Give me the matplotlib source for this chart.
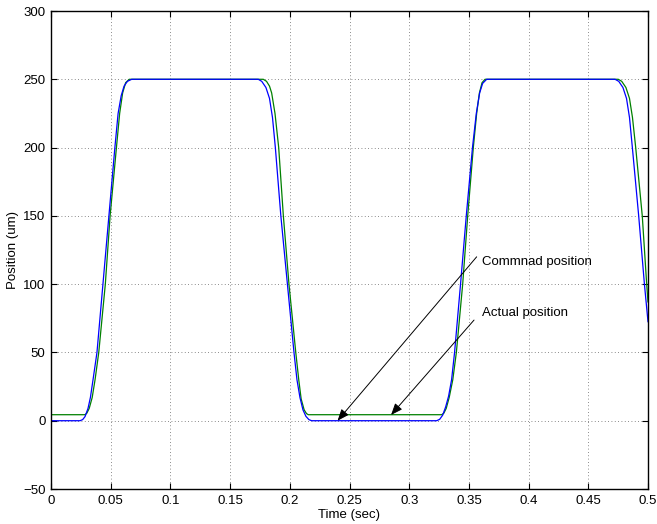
import numpy as np
import matplotlib
matplotlib.use("Agg")
import matplotlib.pyplot as plt

plt.rcParams['font.family'] = ['Liberation Sans', 'DejaVu Sans']

# command position (blue)
t_cmd = [0, 0.0243, 0.0265, 0.0285, 0.031, 0.033, 0.0352, 0.0385, 0.0435, 0.0485,
         0.0535, 0.0562, 0.0588, 0.0612, 0.0640, 0.0676,
         0.1736, 0.1765, 0.1800, 0.1830, 0.1855, 0.1879, 0.1925, 0.1980, 0.2035,
         0.2060, 0.2085, 0.2110, 0.2135, 0.2160, 0.2183,
         0.3230, 0.3255, 0.3280, 0.3305, 0.3330, 0.3355, 0.3380, 0.3430, 0.3478,
         0.3530, 0.3562, 0.3590, 0.3615, 0.3649,
         0.4724, 0.4755, 0.4790, 0.4820, 0.4845, 0.4869, 0.4922, 0.4970, 0.5]
y_cmd = [0, 0, 0.8, 3, 9, 17, 30, 50, 100, 150,
         200, 225, 238, 245, 248.5, 250,
         250, 248.5, 244, 236, 222, 200, 150, 100, 50,
         30, 17, 8, 3.2, 0.8, 0,
         0, 1, 4, 10, 18, 30, 50, 100, 150,
         200, 225, 240, 247, 250,
         250, 248.5, 244, 236, 222, 200, 150, 100, 72.5]

# actual position (green)
t_act = [0, 0.0285, 0.0300, 0.0320, 0.0345, 0.0369, 0.0400, 0.0455, 0.0495,
         0.0548, 0.0575, 0.0600, 0.0625, 0.0655,
         0.1778, 0.1805, 0.1830, 0.1848, 0.1876, 0.1907, 0.1946, 0.1993, 0.2050,
         0.2075, 0.2095, 0.2120, 0.2140, 0.2155,
         0.3272, 0.3290, 0.3310, 0.3335, 0.3365, 0.3395, 0.3448, 0.3490,
         0.3537, 0.3565, 0.3588, 0.3610, 0.3635,
         0.4751, 0.4780, 0.4815, 0.4845, 0.4870, 0.4897, 0.4952, 0.4989, 0.5]
y_act = [4.4, 4.4, 5.5, 9, 17, 30, 50, 100, 150,
         200, 225, 240, 247.5, 250,
         250, 248.5, 245, 240, 225, 200, 150, 100, 50,
         30, 16, 8, 5.2, 4.4,
         4.4, 5.5, 9, 17, 30, 50, 100, 150,
         200, 225, 240, 247.5, 250,
         250, 248.5, 244, 236, 222, 200, 150, 100, 87]

xticks = [0, 0.05, 0.1, 0.15, 0.2, 0.25, 0.3, 0.35, 0.4, 0.45, 0.5]
xticklabels = ['0', '0.05', '0.1', '0.15', '0.2', '0.25', '0.3', '0.35', '0.4', '0.45', '0.5']
yticks = [-50, 0, 50, 100, 150, 200, 250, 300]

fig = plt.figure(figsize=(6.57, 5.24), dpi=100)
ax = fig.add_axes([51/657, 1-489/524, 597/657, 478/524])

ax.plot(t_act, y_act, color=(0, 0.5, 0), lw=0.9)
ax.plot(t_cmd, y_cmd, color=(0, 0, 1), lw=0.9)

ax.set_xlim(0, 0.5)
ax.set_ylim(-50, 300)
ax.set_xticks(xticks)
ax.set_xticklabels(xticklabels)
ax.set_yticks(yticks)
ax.tick_params(direction='in', top=True, right=True, length=4, width=0.8,
               labelsize=9.5)
ax.tick_params(axis='x', pad=4)
ax.tick_params(axis='y', pad=4)
ax.grid(True, linestyle=(0, (1, 3)), color='0.4', lw=0.6)
for s in ax.spines.values():
    s.set_linewidth(1.0)

ax.set_xlabel('Time (sec)', fontsize=9.5, labelpad=2)
ax.set_ylabel('Position (um)', fontsize=9.5, labelpad=3)

arrow = dict(arrowstyle='-|>,head_length=0.5,head_width=0.2', color='black',
             lw=0.7, mutation_scale=14, shrinkA=0, shrinkB=0)
ax.annotate('', xy=(0.24, 0), xytext=(0.3565, 120), arrowprops=arrow)
ax.annotate('', xy=(0.2848, 4.2), xytext=(0.3543, 73.7), arrowprops=arrow)
ax.text(0.3612, 116.4, 'Commnad position', fontsize=9.5, va='center', ha='left')
ax.text(0.3612, 78.6, 'Actual position', fontsize=9.5, va='center', ha='left')

fig.savefig('out.png', dpi=100)
